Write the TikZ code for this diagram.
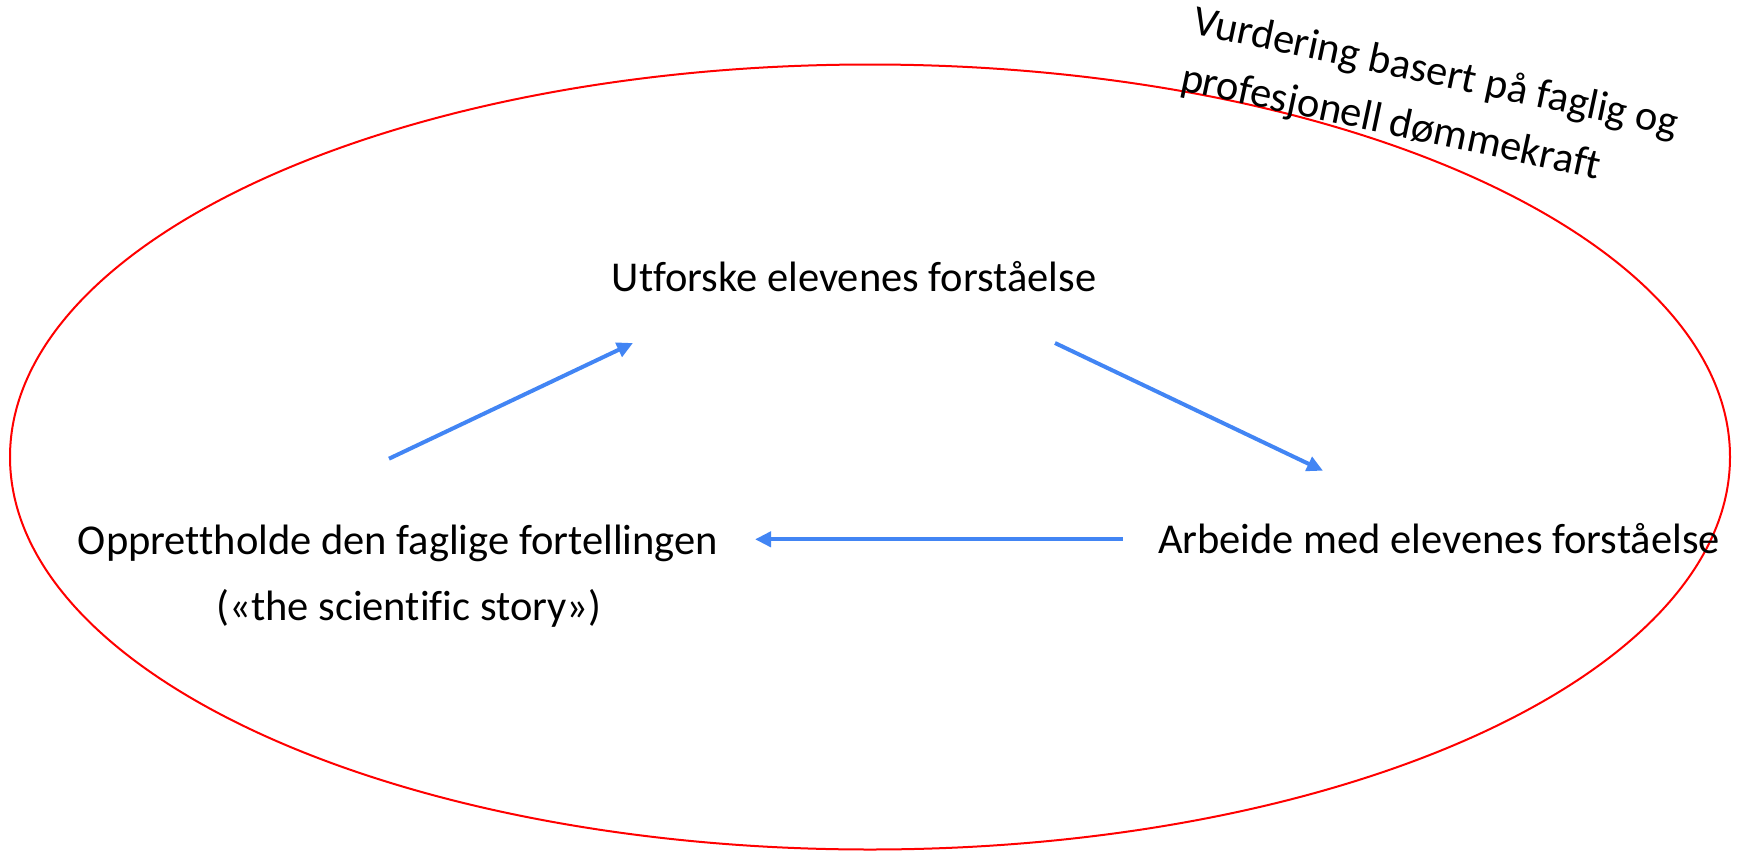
\documentclass[tikz,border=0pt]{standalone}
\usepackage{fontspec}
\setmainfont{Carlito}[Ligatures=NoCommon]
\usetikzlibrary{arrows.meta}
\definecolor{arrowblue}{RGB}{66,133,244}
\tikzset{
  lbl/.style={inner sep=0pt, outer sep=0pt, font=\fontsize{42.5}{58}\selectfont},
  flow/.style={draw=arrowblue, line width=4pt, -{Triangle[length=16pt,width=15pt]}},
  frame/.style={draw={rgb,255:red,255;green,0;blue,0}, line width=2pt}
}
\begin{document}
\begin{tikzpicture}[x=1pt,y=-1pt]
\useasboundingbox (0,0) rectangle (1741,852);
\draw[frame] (870,457) ellipse [x radius=860pt, y radius=392.5pt];

\node[lbl, anchor=base] (top) at (854,291.7) {Utforske elevenes forståelse};
\node[lbl, anchor=base] (left) at (398,554) {Opprettholde den faglige fortellingen};
\node[lbl, anchor=base] (left2) at (409,620) {(«the scientific story»)};
\node[lbl, anchor=base west] (right) at (1158,553) {Arbeide med elevenes forståelse};

% base of a multi-line node is the baseline of its last line
\node[lbl, anchor=base west, rotate=-12, align=left] (vur) at (1179,90)
  {Vurdering basert på faglig og\\profesjonell dømmekraft};

\coordinate (a1s) at (389,458.7);
\coordinate (a1e) at (633,343);
\coordinate (a2s) at (1055,343);
\coordinate (a2e) at (1323,470.7);
\coordinate (a3s) at (1122.7,539.3);
\coordinate (a3e) at (755,539.3);

\draw[flow] (a1s) -- (a1e);
\draw[flow] (a2s) -- (a2e);
\draw[flow] (a3s) -- (a3e);
\end{tikzpicture}
\end{document}
